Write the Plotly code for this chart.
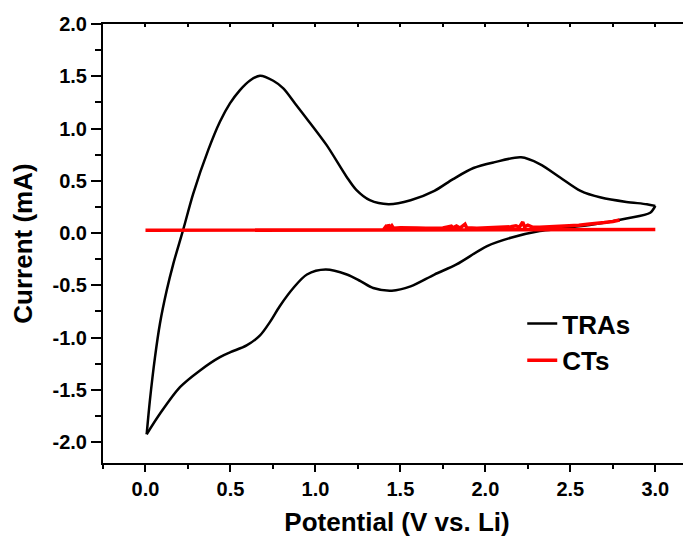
import plotly.graph_objects as go

# TRAs cyclic voltammogram (potential V vs Li, current mA)
# cathodic sweep 3.0 V -> 0.0 V
tras_cath_potential = [3.00, 2.97, 2.83, 2.64, 2.44, 2.32, 2.15, 2.01, 1.83, 1.70, 1.56, 1.45,
                       1.34, 1.265, 1.185, 1.06, 0.95, 0.87, 0.79, 0.732, 0.674, 0.595, 0.50,
                       0.438, 0.321, 0.203, 0.085, 0.007]
tras_cath_current = [0.26, 0.195, 0.14, 0.083, 0.042, 0.019, -0.045, -0.125, -0.30, -0.397,
                     -0.51, -0.551, -0.526, -0.46, -0.397, -0.349, -0.397, -0.526, -0.70,
                     -0.852, -0.979, -1.075, -1.14, -1.187, -1.314, -1.474, -1.729, -1.925]
# anodic sweep 0.0 V -> 3.0 V
tras_anod_potential = [0.007, 0.026, 0.056, 0.085, 0.125, 0.164, 0.222, 0.281, 0.369, 0.438,
                       0.497, 0.556, 0.615, 0.674, 0.752, 0.811, 0.88, 0.948, 1.066, 1.184,
                       1.242, 1.32, 1.43, 1.56, 1.70, 1.81, 1.93, 2.05, 2.21, 2.32, 2.44, 2.56,
                       2.68, 2.83, 2.95, 3.00]
tras_anod_current = [-1.925, -1.601, -1.187, -0.867, -0.548, -0.292, 0.033, 0.378, 0.793, 1.064,
                     1.24, 1.368, 1.46, 1.505, 1.457, 1.384, 1.24, 1.097, 0.841, 0.537, 0.41,
                     0.314, 0.276, 0.314, 0.404, 0.516, 0.622, 0.676, 0.724, 0.66, 0.532,
                     0.404, 0.34, 0.298, 0.276, 0.26]

# CTs cyclic voltammogram
cts_potential = [3.00, 2.00, 1.00, 0.00, 0.50, 1.00, 1.40,
                 1.42, 1.425, 1.43, 1.44, 1.45, 1.46, 1.50, 1.55, 1.60, 1.65, 1.70, 1.75,
                 1.80, 1.81, 1.83, 1.85, 1.88, 1.89, 1.95, 2.00, 2.05, 2.10, 2.15, 2.18,
                 2.20, 2.22, 2.23, 2.25, 2.28, 2.32, 2.40, 2.45, 2.50, 2.55, 2.60, 2.65,
                 2.70, 2.75, 2.79]
cts_current = [0.035, 0.032, 0.029, 0.026, 0.028, 0.030, 0.032,
               0.075, 0.045, 0.080, 0.050, 0.070, 0.045, 0.050, 0.045, 0.048, 0.045, 0.050,
               0.048, 0.065, 0.050, 0.068, 0.048, 0.085, 0.050, 0.047, 0.050, 0.052, 0.055,
               0.060, 0.070, 0.055, 0.105, 0.060, 0.075, 0.055, 0.055, 0.060, 0.065, 0.070,
               0.075, 0.085, 0.090, 0.100, 0.110, 0.125]

x_range = [-0.25, 3.21]
y_range = [-2.2, 2.0]
x_ticks = [0.0, 0.5, 1.0, 1.5, 2.0, 2.5, 3.0]
x_ticklabels = ["0.0", "0.5", "1.0", "1.5", "2.0", "2.5", "3.0"]
y_ticks = [-2.0, -1.5, -1.0, -0.5, 0.0, 0.5, 1.0, 1.5, 2.0]
y_ticklabels = ["-2.0", "-1.5", "-1.0", "-0.5", "0.0", "0.5", "1.0", "1.5", "2.0"]

FONT = "Liberation Sans, Arial, sans-serif"

fig = go.Figure()
fig.add_trace(go.Scatter(x=tras_cath_potential, y=tras_cath_current, mode="lines", name="TRAs",
                         legendgroup="tras",
                         line=dict(color="black", width=2.5, shape="spline", smoothing=0.85)))
fig.add_trace(go.Scatter(x=tras_anod_potential, y=tras_anod_current, mode="lines", name="TRAs",
                         legendgroup="tras", showlegend=False,
                         line=dict(color="black", width=2.5, shape="spline", smoothing=0.85)))
fig.add_trace(go.Scatter(x=cts_potential, y=cts_current, mode="lines", name="CTs",
                         line=dict(color="#ff0000", width=3.5)))
fig.add_trace(go.Scatter(x=[None], y=[None], xaxis="x2", showlegend=False, hoverinfo="skip"))

fig.update_layout(
    width=691, height=544,
    margin=dict(l=95, r=8, t=16, b=89),
    paper_bgcolor="white", plot_bgcolor="white",
    font=dict(family=FONT, color="black"),
    xaxis=dict(range=x_range, tickvals=x_ticks,
               ticktext=["<b>%s</b>" % t for t in x_ticklabels], automargin=False,
               ticks="outside", ticklen=7, tickwidth=2, tickcolor="black",
               showline=True, linecolor="black", linewidth=2, showgrid=False, zeroline=False,
               minor=dict(dtick=0.25, tick0=0, ticks="outside", ticklen=4, tickwidth=2,
                          tickcolor="black", showgrid=False),
               tickfont=dict(size=20, family=FONT),
               title=dict(text="<b>Potential (V vs. Li)</b>", standoff=14,
                          font=dict(size=26, family=FONT))),
    xaxis2=dict(range=x_range, overlaying="x", side="top", showticklabels=False,
                automargin=False,
                dtick=0.25, tick0=0, ticks="inside", ticklen=3, tickwidth=2,
                tickcolor="black", showline=True, linecolor="black", linewidth=2,
                showgrid=False, zeroline=False),
    yaxis=dict(range=y_range, tickvals=y_ticks,
               ticktext=["<b>%s</b>" % t for t in y_ticklabels], automargin=False,
               ticks="outside", ticklen=10, tickwidth=2, tickcolor="black",
               showline=True, linecolor="black", linewidth=2, showgrid=False, zeroline=False,
               minor=dict(dtick=0.25, tick0=0, ticks="outside", ticklen=6, tickwidth=2,
                          tickcolor="black", showgrid=False),
               tickfont=dict(size=20, family=FONT),
               title=dict(text="<b>Current (mA)</b>", standoff=14,
                          font=dict(size=26, family=FONT))),
    legend=dict(x=0.713, y=0.371, xanchor="left", yanchor="top", bgcolor="rgba(0,0,0,0)",
                font=dict(size=26, family=FONT, weight="bold"), tracegroupgap=0),
    showlegend=True,
)

fig.write_html("out.html")
